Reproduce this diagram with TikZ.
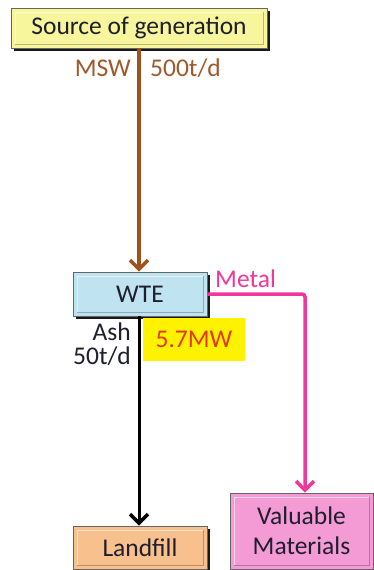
\documentclass[tikz,border=0pt]{standalone}
\usepackage{fontspec}
\setmainfont{Carlito}
\usetikzlibrary{arrows.meta,shadows,calc}
\definecolor{srcfill}{HTML}{F8F69C}
\definecolor{wtefill}{HTML}{BFE3F0}
\definecolor{landfill}{HTML}{F8C08C}
\definecolor{valfill}{HTML}{F49BD6}
\definecolor{brownc}{HTML}{A0521E}
\definecolor{pinkc}{HTML}{F0389A}
\definecolor{mwred}{HTML}{E03A10}
\definecolor{labbrown}{HTML}{A0592C}
\definecolor{txt}{HTML}{1E1E2E}
\tikzset{
  bevelbox/.style={draw=black!60, line width=0.8pt, inner sep=0pt, align=center,
    font=\fontsize{25.5}{27}\selectfont, text=txt,
    drop shadow={shadow xshift=2.5pt, shadow yshift=-2.5pt, fill=black, opacity=0.9},
    path picture={
      \draw[white, opacity=0.6, line width=0.8pt]
        ($(path picture bounding box.south west)+(4pt,4pt)$) |- ($(path picture bounding box.north east)+(-4pt,-4pt)$);
      \draw[black, opacity=0.25, line width=0.8pt]
        ($(path picture bounding box.south west)+(4pt,4pt)$) -| ($(path picture bounding box.north east)+(-4pt,-4pt)$);
    }},
  flow/.style={line width=3.5pt, -{Straight Barb[length=9pt,width=18pt,line width=3.5pt]}},
  lab/.style={inner sep=0pt, font=\fontsize{25.5}{27}\selectfont}
}
\begin{document}
\begin{tikzpicture}[x=1pt,y=-1pt]
\useasboundingbox (0,0) rectangle (374,570);
\fill[white] (0,0) rectangle (374,570);
\node[bevelbox, fill=srcfill, minimum width=256pt, minimum height=40pt] (src) at (139,28) {Source of generation};
\node[bevelbox, fill=wtefill, minimum width=134pt, minimum height=44pt] (wte) at (140,294) {WTE};
\node[bevelbox, fill=landfill, minimum width=134pt, minimum height=43pt] (land) at (140,547.5) {Landfill};
\node[bevelbox, fill=valfill, minimum width=143pt, minimum height=76pt, font=\fontsize{25.5}{30}\selectfont] (val) at (301.5,531) {Valuable\\Materials};
\node[fill=yellow, minimum width=102pt, minimum height=43pt, inner sep=0pt, text=mwred, font=\fontsize{25.5}{27}\selectfont] (mw) at (194,339.5) {5.7MW};
\node[lab, text=labbrown, anchor=east] (msw) at (131,68) {MSW};
\node[lab, text=labbrown, anchor=west] (tpd) at (150,68) {500t/d};
\node[lab, text=pinkc, anchor=west] (metal) at (215,279) {Metal};
\node[lab, text=txt, anchor=east, align=right, font=\fontsize{25.5}{24}\selectfont] (ash) at (131,344) {Ash\\50t/d};
\coordinate (corner) at (305,294);
\draw[flow, draw=brownc] (src.south -| 139,0) -- (wte.north -| 139,0);
\draw[flow, draw=black, line width=3pt] (wte.south -| 139,0) -- (land.north -| 139,0);
\draw[flow, draw=pinkc, rounded corners=3pt] (wte.east) -- (corner) -- (val.north -| corner);
\end{tikzpicture}
\end{document}
